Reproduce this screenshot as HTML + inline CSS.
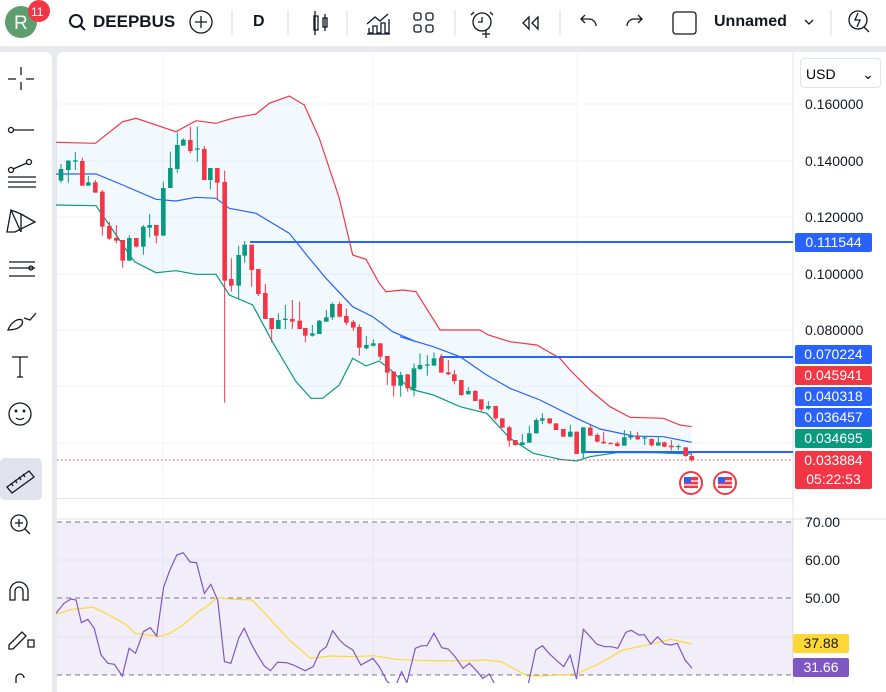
<!DOCTYPE html>
<html><head><meta charset="utf-8"><style>
body{margin:0;width:886px;height:683px;overflow:hidden;background:#e9eaee;font-family:"Liberation Sans",sans-serif;position:relative}
#top{position:absolute;left:0;top:0;width:886px;height:46px;background:#fff}
#left{position:absolute;left:0;top:52px;width:52px;height:640px;background:#fff;border-radius:0 6px 0 0}
#chart{position:absolute;left:57px;top:52px;width:829px;height:640px;background:#fff;border-radius:6px 0 0 0}
.t{position:absolute;font-size:16px;color:#131722}
.lbl{position:absolute;left:795px;width:77px;height:19px;font-size:14px;color:#fff;text-align:center;line-height:19px;border-radius:2px}
.ax{position:absolute;left:805px;font-size:14px;color:#131722}
</style></head><body>
<div id="top"></div>
<div id="left"></div>
<div id="chart"></div>
<svg width="886" height="683" style="position:absolute;left:0;top:0" id="s" fill="none" stroke="#131722" stroke-width="1.3">
<circle cx="21" cy="22" r="16" fill="#5e9e6e" stroke="none"/>
<text x="14" y="29" font-size="19" fill="#fff" stroke="none" font-family="Liberation Sans">R</text>
<circle cx="39" cy="11" r="11" fill="#f23645" stroke="none"/>
<text x="31" y="16" font-size="12" fill="#fff" stroke="none" font-family="Liberation Sans">11</text>
<circle cx="76" cy="21" r="6" stroke-width="2"/><line x1="80" y1="25" x2="85" y2="30" stroke-width="2"/>
<circle cx="201" cy="22" r="11"/><path d="M201 16v12M195 22h12"/>
<path d="M232 10v26M288 10v26M347 10v26M455 10v26M560 10v26M831 10v26" stroke="#e0e3eb"/>
<path d="M314 16h4v14h-4zM315 11v24M323 18h4v9h-4zM325 14v17"/>
<path d="M367 34h23M369 28v5h4v-7h4v7h4v-10h4v10h4v-14M367 24l8-7 5 4 8-7"/>
<rect x="414" y="13" width="7" height="7" rx="2"/><rect x="426" y="13" width="7" height="7" rx="2"/><rect x="414" y="25" width="7" height="7" rx="2"/><rect x="426" y="25" width="7" height="7" rx="2"/>
<circle cx="482" cy="22" r="9"/><path d="M482 17v5h-4M486 30v8M482 34h8M474 12l-3 3M490 12l3 3"/>
<path d="M529 17l-6 6 6 6zM538 17l-6 6 6 6z"/>
<path d="M596 26a7 7 0 0 0-7-7h-8M585 15l-4 4 4 4M627 26a7 7 0 0 1 7-7h8M638 15l4 4-4 4"/>
<rect x="673" y="12" width="23" height="22" rx="3"/>
<path d="M805 20l4 4 4-4"/>
<circle cx="858" cy="20" r="9"/><path d="M864 27l5 5M858 13l-3 7h5l-3 7"/>
<path d="M21 67v8M21 82v8M8 79h8M26 79h8"/>
<circle cx="11" cy="130" r="2.5"/><path d="M14 130h20"/>
<path d="M8 177h28M8 182h28M8 187h28"/><circle cx="11" cy="170" r="2.5"/><circle cx="29" cy="162" r="2.5"/><path d="M13 169l14-6"/>
<path d="M7 232l4-22 10 4 14 8-20 10zM11 210l10 22M21 214v18"/>
<path d="M9 262h26M9 268h26M9 276h26" /><circle cx="31" cy="268" r="2"/>
<path d="M8 330c3-8 10-12 14-10 2 4-2 10-14 10zM24 318l6 2 6-7"/>
<path d="M12 357h16M20 357v20M17 377h6"/>
<circle cx="20" cy="414" r="11"/><circle cx="16" cy="411" r=".8"/><circle cx="24" cy="411" r=".8"/><path d="M16 418q4 3 8 0"/>
<rect x="0" y="458" width="42" height="42" rx="5" fill="#e0e3eb" stroke="none"/>
<path d="M7 487l22-16 5 6-22 16zM13 486l-2-3M17 483l-2-3M21 480l-2-3M25 477l-2-3"/>
<circle cx="19" cy="523" r="8"/><path d="M25 529l5 5M15 523h8M19 519v8"/>
<path d="M10 600v-9a9 9 0 0 1 18 0v9h-5v-9a4 4 0 0 0-8 0v9z"/>
<path d="M9 645l13-13 4 4-13 13h-4zM28 640h6v7h-6z"/>
<path d="M16 683v-5a4 4 0 0 1 8 0"/>
<g stroke="#f0f3fa" stroke-width="1"><path d="M57 104h736M57 161h736M57 217h736M57 274h736M57 330h736M57 386h736M57 443h736M163 52v446M373 52v446M577 52v446M57 560h736M57 637h736M163 500v183M373 500v183M577 500v183"/></g>
<path d="M57 498.5h736M793 52v640M57 519h829" stroke="#e0e3eb" stroke-width="1"/>
<g id="main"></g>
</svg>
<div class="t" style="left:93px;top:12px;font-weight:bold;font-size:17px">DEEPBUS</div>
<div class="t" style="left:253px;top:13px;font-weight:bold">D</div>
<div class="t" style="left:714px;top:13px;font-weight:bold;color:#131722">Unnamed</div>
<div style="position:absolute;left:800px;top:58px;width:81px;height:30px;border:1px solid #e0e3eb;border-radius:4px;background:#fff;font-size:14px;line-height:30px;padding-left:5px;box-sizing:border-box">USD<span style="position:absolute;right:6px;top:0">⌄</span></div>
<div class="ax" style="top:96px">0.160000</div>
<div class="ax" style="top:153px">0.140000</div>
<div class="ax" style="top:209px">0.120000</div>
<div class="ax" style="top:266px">0.100000</div>
<div class="ax" style="top:322px">0.080000</div>
<div class="lbl" style="top:233px;background:#2962ff">0.111544</div>
<div class="lbl" style="top:345px;background:#2962ff">0.070224</div>
<div class="lbl" style="top:366px;background:#f23645">0.045941</div>
<div class="lbl" style="top:387px;background:#2962ff">0.040318</div>
<div class="lbl" style="top:408px;background:#2962ff">0.036457</div>
<div class="lbl" style="top:429px;background:#089981">0.034695</div>
<div class="lbl" style="top:451px;background:#f23645;height:38px">0.033884<br>05:22:53</div>
<div class="ax" style="top:514px">70.00</div>
<div class="ax" style="top:552px">60.00</div>
<div class="ax" style="top:590px">50.00</div>
<div class="lbl" style="top:634px;left:793px;width:56px;background:#fdd835;color:#131722">37.88</div>
<div class="lbl" style="top:658px;left:793px;width:56px;background:#7e57c2">31.66</div>
<script>
var g=document.getElementById('main'),h='';
function P(pts,ox,oy,sx){sx=sx||1/3;return pts.map(function(p){return (ox+p[0]*sx).toFixed(1)+','+(oy+p[1]/3).toFixed(1)}).join(' ')}
var U1=[[0,157],[118,160],[200,95],[240,85],[360,125],[420,92],[480,100],[530,85],[600,72],[640,40],[700,18],[745,45],[790,145],[850,325],[890,495],[930,508],[970,580],[990,605],[1040,600],[1080,605]];
var U2=[[120,0],[240,0],[265,15],[330,35],[410,45],[480,85],[510,120],[570,180],[630,230],[690,262],[790,265],[840,285],[875,290]];
var M1=[[0,252],[120,252],[200,285],[300,328],[360,333],[420,322],[480,325],[520,355],[600,370],[700,430],[760,505],[810,565],[890,650],[950,680],[1010,725],[1080,755]];
var M2=[[0,20],[100,50],[180,80],[260,135],[330,175],[420,210],[530,265],[600,297],[700,318],[790,320],[875,337]];
var L1=[[0,345],[120,347],[170,420],[235,515],[300,548],[360,542],[420,553],[480,553],[520,615],[590,645],[650,757],[720,875],[765,925],[800,925],[850,885],[890,805],[930,828],[970,813],[1010,845],[1050,885],[1080,900]];
var L2=[[0,155],[30,177],[100,195],[180,230],[260,250],[330,325],[400,370],[480,388],[530,393],[570,380],[650,368],[760,368],[875,372]];
var up=P(U1,56,90)+' '+P(U2,400,330), mid=P(M1,56,90)+' '+P(M2,400,330), lo=P(L1,56,90)+' '+P(L2.slice(1),400,330);
var loRev=lo.split(' ').reverse().join(' ');
h+='<polygon points="'+up+' '+loRev+'" fill="#2196f3" fill-opacity="0.06" stroke="none"/>';
h+='<polyline points="'+up+'" stroke="#f23645" stroke-width="1.2"/>';
h+='<polyline points="'+mid+'" stroke="#2962ff" stroke-width="1.2"/>';
h+='<polyline points="'+lo+'" stroke="#089981" stroke-width="1.2"/>';
h+='<path d="M250 242H793M440 357H793M585 452H793" stroke="#2962ff" stroke-width="2"/>';
h+='<path d="M57 460H793" stroke="#f23645" stroke-dasharray="1.5 2.5" stroke-width="1"/>';
var C1=[[15,237,272,222,278,1],[37,212,240,210,278,1],[58,211,215,186,240,1],[79,213,287,203,287,0],[97,277,287,258,287,1],[118,277,308,270,308,0],[139,305,410,300,437,0],[160,408,446,395,450,0],[181,444,452,405,460,0],[200,450,512,450,533,0],[220,444,512,436,512,1],[241,444,470,444,472,0],[262,410,470,405,494,1],[281,405,413,372,442,1],[301,405,437,405,460,0],[322,294,437,275,437,1],[343,234,294,185,294,1],[364,165,237,128,248,1],[382,149,167,145,167,1],[403,150,183,110,190,0],[424,175,179,110,215,1],[445,177,270,168,270,0],[463,234,270,234,298,1],[484,234,278,234,327,0],[506,276,572,242,938,0],[526,567,587,505,605,0],[548,495,587,467,627,1],[566,464,497,453,518,1],[587,464,540,464,590,0],[607,537,612,537,618,0],[628,609,687,582,687,0],[647,684,717,684,757,0],[667,690,717,670,717,1],[688,686,690,645,717,1],[709,687,695,630,717,0],[731,692,717,635,717,0],[748,714,737,714,757,0],[769,730,737,705,740,1],[790,692,732,690,732,1],[811,682,695,660,695,1],[829,642,682,637,690,1],[851,642,680,635,682,0],[871,678,698,655,705,0],[892,696,713,690,723,0],[910,711,773,703,797,0],[931,765,775,738,778,1],[952,760,767,748,770,1],[973,760,800,760,810,0],[994,798,848,798,885,0],[1013,845,887,845,920,0],[1034,855,887,845,920,1],[1055,853,895,853,905,0]];
var C2=[[42,115,175,100,200,1],[60,105,117,70,120,1],[82,103,107,75,137,1],[102,85,107,67,107,1],[124,83,128,72,128,0],[145,127,133,90,135,0],[163,133,153,120,163,0],[184,150,195,150,197,0],[205,183,193,172,193,1],[226,183,213,180,213,0],[244,208,238,208,243,0],[265,228,236,213,240,1],[287,228,265,228,270,0],[307,265,293,265,293,0],[328,292,332,288,350,0],[346,330,345,330,347,0],[367,337,345,312,345,1],[388,310,338,287,338,1],[409,270,310,265,310,1],[427,265,272,250,282,1],[449,265,280,265,283,0],[468,280,300,280,300,0],[490,297,320,297,320,0],[511,305,320,285,322,1],[530,305,372,305,372,0],[550,292,370,292,385,1],[571,293,317,283,317,0],[592,315,335,310,337,0],[611,335,340,305,342,0],[632,339,342,337,343,0],[652,340,348,335,350,0],[673,322,347,300,347,1],[692,318,323,303,330,1],[713,318,328,305,330,0],[734,322,325,320,345,1],[755,327,346,325,350,0],[775,337,347,322,347,1],[793,337,350,335,352,0],[814,347,352,330,362,0],[835,348,350,343,360,1],[857,352,378,352,380,0],[875,378,390,370,395,0]];
function cd(c,ox,oy){var x=ox+c[0]/3,col=c[5]?'#089981':'#f23645';
 var bt=oy+c[1]/3,bb=oy+c[2]/3;if(bb-bt<1.2)bb=bt+1.2;
 h+='<line x1="'+x+'" y1="'+(oy+c[3]/3)+'" x2="'+x+'" y2="'+(oy+c[4]/3)+'" stroke="'+col+'" stroke-width="1"/>';
 h+='<rect x="'+(x-2.3)+'" y="'+bt+'" width="4.6" height="'+(bb-bt)+'" fill="'+col+'" stroke="none"/>';}
C1.forEach(function(c){cd(c,56,90)});C2.forEach(function(c){cd(c,400,330)});
[[691,483],[725,483]].forEach(function(f){h+='<circle cx="'+f[0]+'" cy="'+f[1]+'" r="11" fill="#fff" stroke="#f23645" stroke-width="2"/><rect x="'+(f[0]-7)+'" y="'+(f[1]-6)+'" width="14" height="11" fill="#f23645" stroke="none"/><rect x="'+(f[0]-7)+'" y="'+(f[1]-6)+'" width="7" height="6" fill="#2962ff" stroke="none"/><path d="M'+(f[0])+' '+(f[1]-2)+'h7M'+(f[0]-7)+' '+(f[1]+2)+'h14" stroke="#fff" stroke-width="1.3"/>';});
h+='<rect x="57" y="522" width="736" height="153" fill="#7e57c2" fill-opacity="0.1" stroke="none"/>';
h+='<path d="M57 522H793M57 598H793M57 675H793" stroke="#787b86" stroke-dasharray="5 4" stroke-width="1"/>';
var R=[[0,340],[15,310],[28,297],[38,300],[48,368],[60,358],[72,385],[85,465],[98,490],[110,493],[125,528],[138,445],[150,460],[165,395],[178,383],[190,408],[203,262],[215,210],[228,165],[240,158],[253,186],[265,188],[280,280],[292,253],[305,300],[318,485],[330,490],[345,413],[355,385],[368,430],[380,465],[393,498],[405,512],[418,487],[435,488],[448,495],[470,512],[485,500],[498,455],[510,440],[522,392],[535,420],[545,435],[560,450],[575,495],[598,475],[610,500],[625,545],[640,560],[652,515],[662,548],[678,445],[690,437],[700,437],[713,400],[728,443],[740,447],[753,470],[768,505],[780,490],[795,515],[805,535],[818,522],[830,560],[890,560],[905,450],[918,437],[930,460],[945,482],[958,500],[970,465],[982,537],[995,388],[1008,410],[1020,432],[1035,440],[1048,440],[1060,445],[1075,397],[1085,391],[1100,405],[1110,404],[1122,432],[1135,410],[1148,432],[1160,435],[1172,430],[1187,480],[1200,505]];
var Y=[[0,343],[30,328],[70,322],[100,345],[130,372],[150,400],[175,405],[195,410],[215,400],[240,375],[265,340],[285,318],[305,293],[335,298],[370,300],[400,350],[440,420],[480,475],[520,468],[560,470],[600,467],[640,478],[700,482],[780,482],[810,480],[840,485],[890,528],[930,527],[980,522],[1020,495],[1070,450],[1100,440],[1130,430],[1160,418],[1200,432]];
h+='<polyline points="'+P(Y,56,500,0.53)+'" stroke="#fdd835" stroke-width="1.2"/>';
h+='<polyline points="'+P(R,56,500,0.53)+'" stroke="#7e57c2" stroke-width="1.2"/>';
g.innerHTML=h;
</script>
</body></html>
